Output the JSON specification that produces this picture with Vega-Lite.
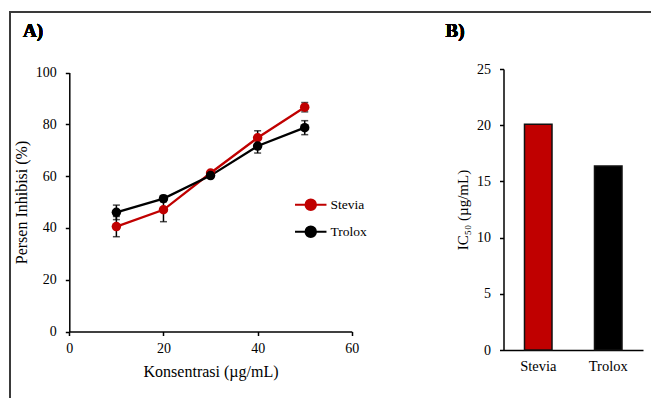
{
  "$schema": "https://vega.github.io/schema/vega-lite/v6.json",
  "width": 660,
  "height": 400,
  "autosize": {"type": "none"},
  "padding": {"left": 10, "top": 12, "right": 0, "bottom": 0},
  "background": "white",
  "config": {
    "view": {"stroke": "#3a3a3a", "strokeWidth": 2},
    "font": "Liberation Serif",
    "axis": {
      "labelFont": "Liberation Serif", "titleFont": "Liberation Serif",
      "labelColor": "black", "titleColor": "black", "domainColor": "black", "tickColor": "black",
      "grid": false, "titleFontWeight": "normal", "labelFontSize": 14, "titleFontSize": 16,
      "domainWidth": 1.5, "tickWidth": 1.5, "tickSize": 4, "labelFlush": false
    },
    "legend": {"labelFont": "Liberation Serif", "labelColor": "black"}
  },
  "datasets": {
    "inhib": [
      {"sample": "Stevia", "conc": 10, "inhib": 40.5, "err": 3.9},
      {"sample": "Stevia", "conc": 20, "inhib": 47.0, "err": 4.6},
      {"sample": "Stevia", "conc": 30, "inhib": 61.2, "err": 0.8},
      {"sample": "Stevia", "conc": 40, "inhib": 74.8, "err": 2.7},
      {"sample": "Stevia", "conc": 50, "inhib": 86.6, "err": 1.8},
      {"sample": "Trolox", "conc": 10, "inhib": 46.0, "err": 2.8},
      {"sample": "Trolox", "conc": 20, "inhib": 51.3, "err": 1.2},
      {"sample": "Trolox", "conc": 30, "inhib": 60.2, "err": 0.8},
      {"sample": "Trolox", "conc": 40, "inhib": 71.6, "err": 2.7},
      {"sample": "Trolox", "conc": 50, "inhib": 78.7, "err": 2.7}
    ],
    "ic50": [
      {"sample": "Stevia", "ic50": 20.08},
      {"sample": "Trolox", "ic50": 16.37}
    ]
  },
  "layer": [
    {
      "data": {"name": "inhib"},
      "layer": [
        {
          "mark": {"type": "line", "strokeWidth": 2.25},
          "encoding": {
            "x": {"field": "conc", "type": "quantitative",
              "scale": {"domain": [0, 60], "range": [59.3, 341.8], "nice": false, "zero": false},
              "axis": {"orient": "bottom", "offset": -80.5, "values": [0, 20, 40, 60], "title": "Konsentrasi (µg/mL)", "labelPadding": 6, "titlePadding": 8}},
            "y": {"field": "inhib", "type": "quantitative",
              "scale": {"domain": [0, 100], "range": [319.5, 60.5], "nice": false, "zero": false},
              "axis": {"orient": "left", "offset": -59.3, "values": [0, 20, 40, 60, 80, 100], "title": "Persen Inhibisi (%)", "labelPadding": 9, "titlePadding": 6}},
            "color": {"field": "sample", "type": "nominal",
              "scale": {"domain": ["Stevia", "Trolox"], "range": ["#C00000", "#000000"]},
              "legend": {
                "orient": "none", "legendX": 294, "legendY": 186, "title": null,
                "symbolType": "M-3,0H3M1,0A1,1,0,1,1,-1,0A1,1,0,1,1,1,0Z",
                "symbolSize": 110, "symbolStrokeWidth": 2, "labelFontSize": 13.5,
                "labelOffset": 13, "rowPadding": 8, "padding": 0,
                "encode": {"symbols": {"update": {
                  "fill": {"scale": "color", "field": "value"},
                  "stroke": {"scale": "color", "field": "value"},
                  "opacity": {"value": 1}}}}
              }}
          }
        },
        {
          "mark": {"type": "errorbar", "color": "black", "thickness": 1.5, "ticks": {"size": 7, "thickness": 1.5}},
          "encoding": {
            "x": {"field": "conc", "type": "quantitative"},
            "y": {"field": "inhib", "type": "quantitative", "title": "Persen Inhibisi (%)"},
            "yError": {"field": "err"}
          }
        },
        {
          "mark": {"type": "point", "filled": true, "size": 90, "opacity": 1},
          "encoding": {
            "x": {"field": "conc", "type": "quantitative"},
            "y": {"field": "inhib", "type": "quantitative"},
            "color": {"field": "sample", "type": "nominal"}
          }
        },
        {
          "mark": {"type": "text", "text": "A)", "align": "left", "baseline": "alphabetic", "fontSize": 19, "fontWeight": "bold", "font": "Liberation Serif", "color": "black"},
          "encoding": {"x": {"datum": -9.85}, "y": {"datum": 113.7}}
        },
        {
          "mark": {"type": "text", "text": "B)", "align": "left", "baseline": "alphabetic", "fontSize": 19, "fontWeight": "bold", "font": "Liberation Serif", "color": "black"},
          "encoding": {"x": {"datum": 79.9}, "y": {"datum": 113.7}}
        }
      ]
    },
    {
      "data": {"name": "ic50"},
      "mark": {"type": "bar", "stroke": "#111111", "strokeWidth": 1.5},
      "encoding": {
        "x": {"field": "sample", "type": "nominal",
          "scale": {"range": [493.5, 633], "paddingInner": 0.607, "paddingOuter": 0.3},
          "axis": {"orient": "bottom", "offset": -62, "title": null, "ticks": false, "labelAngle": 0, "labelPadding": 9, "labelFontSize": 14.5}},
        "y": {"field": "ic50", "type": "quantitative",
          "scale": {"domain": [0, 25], "range": [338, 57], "nice": false},
          "axis": {"orient": "left", "offset": -493.5, "values": [0, 5, 10, 15, 20, 25], "title": "IC₅₀ (µg/mL)", "titleFontSize": 15, "labelPadding": 9, "titlePadding": 6}},
        "color": {"field": "sample", "type": "nominal"}
      }
    }
  ],
  "resolve": {
    "scale": {"x": "independent", "y": "independent"},
    "axis": {"x": "independent", "y": "independent"}
  }
}
